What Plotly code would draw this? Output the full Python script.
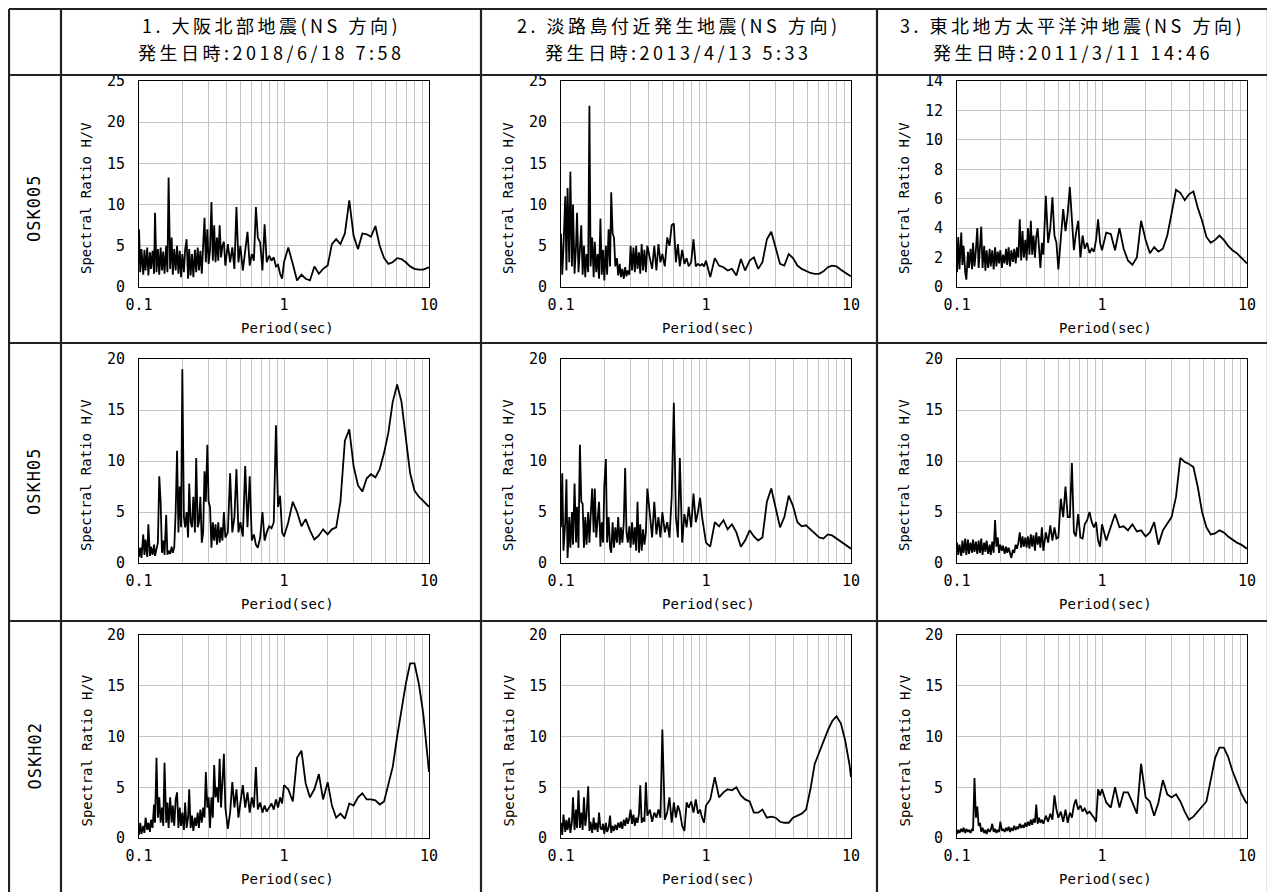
import plotly.graph_objects as go

# page body adds an 8px margin, so the figure is drawn 8px smaller and
# every pixel position below is given in page coordinates
PAGE_W, PAGE_H = 1275, 892
OFF = 8
W, H = PAGE_W - OFF, PAGE_H - OFF

# ---------------- data ----------------
period = [
    0.100, 0.102, 0.104, 0.107, 0.109, 0.111, 0.114, 0.116, 0.119, 0.121,
    0.124, 0.127, 0.129, 0.132, 0.135, 0.138, 0.141, 0.144, 0.147, 0.150,
    0.154, 0.157, 0.160, 0.164, 0.168, 0.171, 0.175, 0.179, 0.183, 0.187,
    0.191, 0.195, 0.199, 0.204, 0.208, 0.213, 0.218, 0.222, 0.227, 0.232,
    0.237, 0.243, 0.248, 0.254, 0.259, 0.265, 0.271, 0.277, 0.283, 0.289,
    0.296, 0.302, 0.309, 0.316, 0.323, 0.330, 0.337, 0.345, 0.352, 0.360,
    0.368, 0.376, 0.385, 0.394,
    0.41, 0.425, 0.44, 0.455, 0.47, 0.485, 0.50, 0.52, 0.54, 0.56,
    0.58, 0.60, 0.62, 0.64, 0.66, 0.685, 0.71, 0.735, 0.76, 0.79,
    0.82, 0.85, 0.88, 0.91, 0.94, 0.97,
    1.0, 1.07, 1.15, 1.23, 1.32, 1.41, 1.51, 1.62, 1.74, 1.86,
    2.0, 2.14, 2.29, 2.45, 2.63, 2.82, 3.02, 3.24, 3.47, 3.72,
    3.98, 4.27, 4.57, 4.90, 5.25, 5.62, 6.03, 6.46, 6.92, 7.41,
    7.94, 8.51, 9.12, 9.77, 10.0,
]

# OSK005
p11 = [
    7.0, 1.8, 4.6, 1.5, 4.5, 2.0, 4.8, 1.4, 4.2, 2.2,
    4.4, 1.6, 9.0, 1.8, 4.6, 1.5, 4.8, 2.0, 4.3, 1.6,
    5.0, 1.8, 13.3, 2.2, 6.0, 1.5, 4.6, 2.0, 5.0, 1.6,
    4.4, 1.2, 4.0, 1.8, 4.5, 5.8, 1.0, 4.6, 1.4, 4.0,
    1.2, 4.5, 1.8, 4.8, 2.0, 4.4, 1.6, 4.5, 8.4, 3.0,
    7.0, 2.8, 4.5, 10.3, 3.2, 7.5, 3.0, 6.0, 3.2, 7.5,
    3.6, 5.0, 5.5, 2.6,
    5.2, 3.0, 4.8, 2.2, 9.7, 3.0, 5.0, 2.0, 4.2, 6.7,
    2.6, 4.0, 3.2, 9.7, 6.0, 5.4, 2.0, 7.6, 3.0, 3.8,
    3.2, 3.6, 2.5, 2.7, 1.6, 1.0,
    3.0, 4.8, 2.8, 0.8, 1.5, 1.0, 0.8, 2.5, 1.6, 2.2,
    2.6, 5.2, 5.8, 5.2, 6.5, 10.5, 6.2, 4.6, 6.5, 6.4,
    6.1, 7.4, 5.0, 3.5, 2.8, 3.0, 3.5, 3.4, 3.0, 2.5,
    2.2, 2.1, 2.1, 2.3, 2.4,
]
p12 = [
    6.5, 1.5, 4.8, 11.0, 2.0, 12.0, 3.0, 14.0, 2.5, 10.0,
    1.6, 5.0, 9.0, 1.8, 4.5, 7.5, 1.5, 5.0, 1.2, 4.0,
    1.8, 22.0, 2.5, 6.0, 1.2, 5.5, 1.8, 4.0, 1.0, 8.3,
    1.5, 4.5, 0.8, 5.0, 1.5, 7.0, 2.5, 11.5, 6.5, 6.0,
    2.5, 3.5, 1.4, 2.8, 1.2, 2.2, 1.0, 2.4, 1.3, 2.0,
    1.5, 5.0, 2.0, 4.8, 1.8, 5.0, 2.2, 4.2, 1.6, 5.2,
    2.0, 4.5, 1.8, 5.0,
    3.5, 2.2, 5.0, 2.0, 5.2, 3.0, 4.0, 2.5, 6.0, 5.0,
    7.5, 7.7, 3.0, 5.2, 2.5, 4.5, 2.8, 3.5, 2.5, 3.0,
    5.8, 2.5, 2.8, 2.6, 2.8, 2.5,
    3.2, 1.2, 3.5, 2.6, 2.4, 2.0, 2.2, 1.4, 3.4, 2.0,
    3.2, 3.6, 2.2, 3.0, 5.8, 6.7, 4.8, 2.8, 2.6, 4.0,
    3.5, 2.6, 2.2, 1.9, 1.7, 1.6, 1.6, 1.9, 2.4, 2.6,
    2.5, 2.1, 1.7, 1.4, 1.3,
]
p13 = [
    1.0, 3.4, 1.2, 3.7, 1.5, 2.8, 1.0, 0.5, 2.4, 1.3,
    2.6, 1.2, 3.0, 1.4, 2.5, 4.0, 1.3, 2.8, 4.1, 1.3,
    2.8, 1.1, 2.5, 1.3, 2.6, 1.4, 2.5, 1.2, 2.7, 1.4,
    2.4, 1.6, 2.5, 1.3, 2.2, 1.6, 2.6, 1.5, 2.7, 1.4,
    2.5, 1.7, 2.6, 1.6, 2.7, 2.0, 4.6, 1.8, 3.8, 2.0,
    3.2, 1.8, 4.0, 2.2, 4.5, 2.2, 3.5, 2.0, 3.4, 4.0,
    2.2, 1.3, 3.0, 2.2,
    6.2, 3.0, 4.0, 6.1, 3.5, 3.0, 1.2, 3.5, 5.3, 3.8,
    5.0, 6.8, 4.6, 2.5, 3.6, 4.5, 2.0, 3.5, 2.6, 3.0,
    2.3, 2.6, 2.4, 3.2, 4.6, 3.0,
    2.5, 3.7, 3.6, 2.5, 4.0, 2.6, 1.8, 1.5, 2.0, 4.5,
    3.2, 2.3, 2.7, 2.4, 2.6, 3.5, 5.0, 6.6, 6.4, 5.9,
    6.3, 6.5, 5.4, 4.5, 3.4, 3.0, 3.2, 3.5, 3.2, 2.8,
    2.5, 2.3, 2.0, 1.7, 1.6,
]
# OSKH05
p21 = [
    0.6, 1.5, 0.5, 2.8, 0.8, 2.3, 0.6, 3.8, 0.7, 1.6,
    0.8, 1.8, 0.7, 1.4, 2.0, 8.5, 6.0, 1.0, 2.2, 0.8,
    4.7, 0.8, 1.2, 0.9, 1.6, 1.0, 1.5, 5.0, 11.0, 3.0,
    7.5, 3.5, 19.0, 4.5, 3.5, 5.0, 2.5, 7.8, 4.0, 3.5,
    6.5, 3.0, 10.3, 3.5, 4.0, 6.5, 2.0, 3.0, 9.0, 6.0,
    11.6, 6.0, 5.5, 1.5, 4.0, 2.2, 3.8, 1.8, 4.0, 2.0,
    3.5, 2.2, 5.0, 2.5,
    3.0, 8.8, 3.0, 4.5, 9.2, 3.0, 4.0, 2.6, 9.5, 3.5,
    8.5, 2.2, 2.8, 1.8, 1.5, 2.5, 5.0, 2.2, 3.0, 3.6,
    3.4, 4.0, 13.5, 5.5, 6.6, 3.0,
    2.6, 4.0, 6.0, 5.0, 3.6, 4.3, 3.2, 2.3, 2.7, 3.3,
    2.8, 3.3, 3.5, 6.0, 12.0, 13.1, 9.5, 7.6, 7.0, 8.3,
    8.7, 8.4, 9.2, 10.8, 12.8, 15.8, 17.5, 15.8, 12.5, 8.8,
    7.1, 6.5, 6.1, 5.6, 5.5,
]
p22 = [
    3.5, 8.8, 1.2, 4.0, 8.2, 0.5, 4.5, 1.5, 5.0, 1.8,
    7.8, 2.0, 5.5, 1.5, 11.6, 6.0, 5.8, 1.5, 4.5, 1.8,
    5.0, 2.0, 4.5, 7.3, 3.0, 7.3, 2.5, 4.5, 6.0, 1.6,
    4.0, 2.0, 7.6, 10.2, 2.0, 4.5, 1.5, 1.0, 4.0, 1.5,
    3.5, 2.0, 4.5, 1.8, 3.5, 2.0, 4.0, 9.3, 3.0, 2.0,
    3.6, 1.5, 4.0, 1.8, 3.5, 1.2, 6.0, 1.0, 3.8, 1.2,
    3.3, 1.8, 3.0, 7.3,
    5.0, 2.5, 6.0, 2.8, 4.5, 2.5, 5.0, 3.0, 4.0, 2.5,
    6.5, 15.7, 4.5, 2.5, 10.3, 2.0, 4.8, 3.5, 5.5, 3.5,
    6.8, 4.0, 5.0, 6.4, 4.5, 3.0,
    2.0, 1.6, 4.0, 3.6, 4.2, 3.3, 3.8, 3.0, 1.6, 2.2,
    3.2, 2.6, 2.2, 2.5, 6.0, 7.3, 5.5, 3.5, 4.5, 6.6,
    5.6, 4.0, 3.6, 3.7, 3.3, 2.9, 2.5, 2.4, 2.8, 2.7,
    2.4, 2.1, 1.8, 1.5, 1.4,
]
p23 = [
    2.0, 0.8, 1.8, 0.7, 2.2, 1.0, 2.4, 0.8, 2.3, 0.9,
    2.0, 1.0, 2.3, 1.1, 2.1, 0.9, 2.2, 1.0, 2.4, 0.8,
    2.0, 1.1, 2.2, 0.9, 1.8, 0.8, 2.1, 1.0, 4.2, 1.6,
    2.5, 1.0, 1.8, 1.2, 1.7, 0.9, 1.6, 1.0, 1.5, 0.8,
    0.5, 1.3, 1.0, 1.8, 1.4, 2.0, 3.0, 1.5, 2.6, 1.6,
    2.5, 1.5, 2.6, 1.4, 2.8, 1.6, 2.7, 1.2, 3.0, 1.8,
    2.6, 1.5, 3.5, 1.2,
    3.0, 2.0, 3.7, 2.2, 3.5, 2.4, 2.5, 6.3, 4.5, 7.5,
    4.5, 4.5, 9.8, 3.0, 2.6, 4.8, 2.5, 2.4, 3.8, 4.2,
    5.0, 4.0, 3.5, 4.0, 2.2, 1.6,
    3.8, 2.2, 3.5, 4.8, 3.5, 3.6, 3.2, 3.8, 3.1, 3.2,
    2.6, 3.0, 4.0, 1.8, 3.2, 3.9, 4.5, 6.5, 10.3, 9.9,
    9.7, 9.4, 7.5, 5.0, 3.5, 2.8, 2.9, 3.2, 3.0, 2.6,
    2.3, 2.0, 1.8, 1.5, 1.4,
]
# OSKH02
p31 = [
    0.3, 1.5, 0.4, 1.2, 0.5, 2.0, 0.8, 1.5, 0.6, 1.8,
    1.0, 3.3, 1.5, 7.9, 2.0, 4.0, 1.5, 3.0, 1.2, 7.4,
    1.5, 3.5, 1.0, 4.0, 1.5, 3.2, 1.2, 3.8, 4.5, 1.0,
    3.0, 1.2, 2.5, 0.8, 3.5, 1.0, 2.0, 4.8, 1.0, 2.2,
    0.7, 2.0, 1.2, 2.5, 1.0, 2.8, 1.5, 3.0, 2.0, 6.5,
    3.0, 4.0, 1.0, 4.0, 2.0, 7.2, 4.0, 5.0, 3.5, 7.8,
    3.0, 5.5, 8.3, 3.0,
    0.9, 2.5, 5.5, 3.0, 4.8, 2.0, 3.5, 5.2, 3.0, 4.5,
    2.5, 4.0, 3.0, 7.0, 2.8, 3.5, 2.5, 3.2, 2.6, 3.0,
    3.4, 2.8, 3.8, 3.0, 4.0, 3.4,
    5.2, 4.8, 3.6, 7.9, 8.6, 5.4, 4.0, 4.8, 6.3, 3.8,
    5.5, 3.2, 2.0, 2.4, 1.9, 3.4, 3.2, 4.0, 4.4, 3.8,
    3.8, 3.7, 3.3, 3.6, 5.3, 7.0, 10.0, 12.8, 15.2, 17.2,
    17.2, 15.2, 12.3, 8.0, 6.5,
]
p32 = [
    1.5, 0.3, 2.3, 0.6, 1.8, 0.8, 2.0, 0.5, 1.6, 4.0,
    0.8, 2.8, 1.0, 4.7, 1.0, 2.5, 0.8, 4.0, 1.2, 2.2,
    5.1, 0.7, 1.6, 0.5, 2.0, 0.8, 1.5, 0.6, 2.5, 1.0,
    0.8, 1.4, 0.4, 1.5, 0.6, 1.0, 2.2, 0.5, 1.2, 0.7,
    1.3, 0.8, 1.5, 1.0, 1.6, 0.9, 1.8, 1.2, 2.0, 1.4,
    2.0, 2.8, 1.4, 2.3, 1.2, 2.0, 1.5, 2.4, 5.2, 1.5,
    2.0, 1.6, 5.5, 2.2,
    2.8, 1.6, 2.5, 2.0, 2.8, 2.0, 10.7, 1.8, 2.5, 4.0,
    1.5, 3.5, 2.0, 3.2, 2.6, 1.2, 0.7, 3.5, 3.0, 3.6,
    2.5, 3.8, 2.4, 2.8, 2.0, 1.5,
    3.2, 3.8, 6.0, 4.0, 4.5, 4.8, 4.7, 5.0, 4.2, 3.8,
    3.6, 2.5, 2.5, 2.8, 2.0, 2.1, 2.0, 1.6, 1.5, 1.5,
    2.0, 2.2, 2.4, 2.8, 4.8, 7.3, 8.4, 9.6, 10.6, 11.5,
    12.0, 11.3, 9.6, 7.2, 6.0,
]
p33 = [
    0.4, 0.8, 0.5, 0.9, 0.6, 1.0, 0.5, 0.9, 0.6, 0.8,
    0.5, 0.9, 0.7, 5.9, 2.0, 3.1, 1.2, 1.5, 0.6, 1.0,
    0.5, 0.8, 0.4, 0.9, 0.6, 0.8, 1.4, 0.6, 0.9, 0.5,
    0.8, 0.6, 1.6, 0.7, 0.9, 0.6, 1.0, 0.7, 1.1, 0.6,
    1.0, 0.7, 1.2, 0.8, 1.1, 0.9, 1.4, 1.0, 1.3, 1.0,
    1.5, 1.1, 1.6, 1.2, 1.8, 1.3, 1.9, 1.5, 3.3, 1.4,
    2.0, 1.5, 1.8, 1.4,
    2.2, 1.6, 2.4, 1.8, 4.2, 2.8, 2.0, 2.6, 1.6, 2.8,
    1.5, 2.5, 2.0, 3.2, 3.8, 2.8, 3.2, 2.6, 2.9, 2.4,
    2.6, 2.3, 2.0, 1.6, 4.8, 4.2,
    4.8, 3.5, 3.0, 5.0, 3.0, 4.5, 4.5, 3.5, 2.4, 7.3,
    4.0, 3.6, 2.2, 3.5, 5.7, 4.3, 4.0, 4.3, 3.6, 2.6,
    1.8, 2.1, 2.6, 3.0, 3.6, 5.7, 7.9, 8.9, 8.9, 8.0,
    6.6, 5.5, 4.4, 3.6, 3.4,
]

col_title_line1 = ["1. 大阪北部地震(NS 方向)", "2. 淡路島付近発生地震(NS 方向)", "3. 東北地方太平洋沖地震(NS 方向)"]
col_title_line2 = ["発生日時:2018/6/18 7:58", "発生日時:2013/4/13 5:33", "発生日時:2011/3/11 14:46"]
row_labels = ["OSK005", "OSKH05", "OSKH02"]
y_max = [[25, 25, 14], [20, 20, 20], [20, 20, 20]]
y_step = [[5, 5, 2], [5, 5, 5], [5, 5, 5]]
x_tickvals = [0.1, 0.2, 0.3, 0.4, 0.5, 0.6, 0.7, 0.8, 0.9, 1,
              2, 3, 4, 5, 6, 7, 8, 9, 10]
x_ticktext = ["0.1", "", "", "", "", "", "", "", "", "1",
              "", "", "", "", "", "", "", "", "10"]
x_title = "Period(sec)"
y_title = "Spectral Ratio H/V"

series = [[p11, p12, p13], [p21, p22, p23], [p31, p32, p33]]
for row in series:
    for s in row:
        assert len(s) == len(period), len(s)

# ---------------- layout geometry (page pixels) ----------------
col_px = [(139, 429), (561, 851), (957, 1247)]
row_px = [(81, 287), (359, 563), (635, 838)]
table_v = [9, 61, 481, 877, 1268]
table_h = [9, 75, 343, 621]

def px(x):
    return (x - OFF) / W

def py(y):
    return 1 - (y - OFF) / H

LATIN = "DejaVu Sans Mono, Noto Sans CJK JP"
CJK = "Noto Sans CJK JP"
GRID = "#c4c4c4"

fig = go.Figure()
layout = dict(
    width=W, height=H, margin=dict(l=0, r=0, t=0, b=0, pad=0, autoexpand=False),
    paper_bgcolor="white", plot_bgcolor="white", showlegend=False,
)
annotations = []
shapes = []

k = 0
for r in range(3):
    for c in range(3):
        k += 1
        xa = "xaxis" if k == 1 else f"xaxis{k}"
        ya = "yaxis" if k == 1 else f"yaxis{k}"
        xr = "x" if k == 1 else f"x{k}"
        yr = "y" if k == 1 else f"y{k}"
        fig.add_trace(go.Scatter(
            x=period, y=series[r][c], mode="lines",
            line=dict(color="black", width=1.8),
            xaxis=xr, yaxis=yr, hoverinfo="skip",
        ))
        x0, x1 = col_px[c]
        y0, y1 = row_px[r]
        layout[xa] = dict(
            domain=[px(x0), px(x1)], anchor=yr, type="log", range=[-1, 1],
            tickmode="array", tickvals=x_tickvals, ticktext=x_ticktext,
            showgrid=True, gridcolor=GRID, gridwidth=1,
            showline=True, mirror=True, linecolor="black", linewidth=1,
            ticks="", zeroline=False, ticklabelstandoff=4, automargin=False,
            tickfont=dict(family=LATIN, size=15, color="black"),
        )
        layout[ya] = dict(
            domain=[py(y1), py(y0)], anchor=xr, range=[0, y_max[r][c]],
            dtick=y_step[r][c], tick0=0,
            showgrid=True, gridcolor=GRID, gridwidth=1,
            showline=True, mirror=True, linecolor="black", linewidth=1,
            ticks="", zeroline=False, ticklabelstandoff=10, automargin=False,
            tickfont=dict(family=LATIN, size=15, color="black"),
        )
        annotations.append(dict(
            text=x_title, xref="paper", yref="paper",
            x=px((x0 + x1) / 2 + 3), y=py(y1 + 41), showarrow=False,
            xanchor="center", yanchor="middle",
            font=dict(family=LATIN, size=14, color="black"),
        ))
        annotations.append(dict(
            text=y_title, xref="paper", yref="paper", textangle=-90,
            x=px(x0 - 53), y=py((y0 + y1) / 2 + 14), showarrow=False,
            xanchor="center", yanchor="middle",
            font=dict(family=LATIN, size=14, color="black"),
        ))

# column headers
for c in range(3):
    cx = (table_v[c + 1] + table_v[c + 2]) / 2
    for text, yy in ((col_title_line1[c], 25), (col_title_line2[c], 52)):
        annotations.append(dict(
            text=f'<span style="letter-spacing:3.5px">{text}</span>',
            xref="paper", yref="paper", x=px(cx), y=py(yy),
            showarrow=False, xanchor="center", yanchor="middle",
            font=dict(family=CJK, size=18, color="black"),
        ))

# row labels
row_edges = [table_h[1], table_h[2], table_h[3], PAGE_H]
for r in range(3):
    cy = (row_edges[r] + row_edges[r + 1]) / 2
    annotations.append(dict(
        text=f'<span style="letter-spacing:1px">{row_labels[r]}</span>',
        xref="paper", yref="paper", x=px(34), y=py(cy), textangle=-90,
        showarrow=False, xanchor="center", yanchor="middle",
        font=dict(family=LATIN, size=17, color="black"),
    ))

# table frame
for xv in table_v:
    shapes.append(dict(type="line", xref="paper", yref="paper",
                       x0=px(xv), x1=px(xv), y0=py(table_h[0]), y1=py(PAGE_H + 2),
                       line=dict(color="#222222", width=2.2)))
for yh in table_h:
    shapes.append(dict(type="line", xref="paper", yref="paper",
                       x0=px(table_v[0]), x1=px(table_v[-1]), y0=py(yh), y1=py(yh),
                       line=dict(color="#222222", width=2.2)))

layout["annotations"] = annotations
layout["shapes"] = shapes
fig.update_layout(**layout)
fig.write_html("out.html")
